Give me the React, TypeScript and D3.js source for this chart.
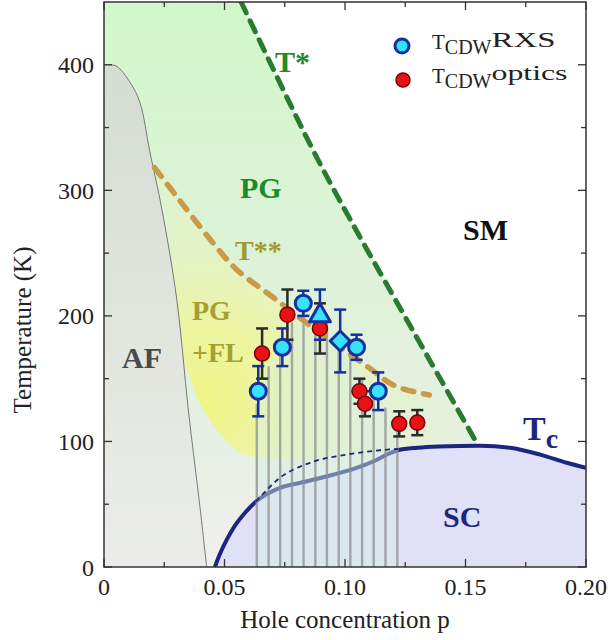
import React from 'react';
import * as d3 from 'd3';

// ---------- data ----------
const rxsP = [0.064, 0.074, 0.0827, 0.1048, 0.1138];
const rxsT = [140, 175, 210, 175, 140];
const rxsErr = [20, 15, 10, 10, 15];
const triP = [0.0896];
const triT = [201];
const triErr = [20];
const diaP = [0.098];
const diaT = [180];
const diaErr = [25];
const optP = [0.0656, 0.0761, 0.0896, 0.106, 0.1083, 0.1225, 0.130];
const optT = [170, 201, 190, 140, 130, 114, 115];
const optErr = [20, 20, 20, 10, 10, 10, 10];

// sample doping lines and their heights
const sampleP = [0.0634, 0.0683, 0.0731, 0.078, 0.0828, 0.0877, 0.0925, 0.0974, 0.1022, 0.1071, 0.1119, 0.1168, 0.1217];
const sampleTop = [130, 160, 172, 195, 205, 205, 195, 180, 168, 150, 138, 127, 110];

// T* line
const tStarP = [0.0569, 0.0862, 0.1021, 0.12, 0.1318, 0.1552];
const tStarT = [450, 334, 277, 216, 176, 97];
// T** line
const tSSP = [0.021, 0.031, 0.044, 0.055, 0.070, 0.09, 0.109, 0.12, 0.13, 0.135];
const tSST = [318, 293, 261, 237, 215, 186, 160, 145, 139, 137];
// Neel line (AF)
const tnP = [0, 0.005, 0.0108, 0.0149, 0.019, 0.024, 0.0302, 0.035, 0.0398, 0.0426];
const tnT = [400, 399, 386, 370, 331, 285, 213, 125, 48, 0];
// Tc (actual, with plateau)
const tcP = [0.046, 0.048, 0.051, 0.054, 0.058, 0.063, 0.073, 0.0813, 0.095, 0.1048, 0.1117, 0.1173, 0.122, 0.13, 0.139, 0.156, 0.1685, 0.181, 0.192, 0.20];
const tcT = [0, 10, 22, 32, 42, 52, 63, 67, 73.5, 79, 84, 89.5, 93, 95, 96, 96.6, 95, 89.5, 83, 79];
// ideal dome (dashed)
const tcIdP = [0.063, 0.073, 0.0855, 0.1007, 0.1145, 0.122];
const tcIdT = [52, 71, 83, 89.5, 93, 94];
// lower boundary of PG+FL region
const flLowP = [0.155, 0.13, 0.11, 0.09, 0.07, 0.058, 0.049, 0.040, 0.034, 0.030, 0.026, 0.021];
const flLowT = [97, 93, 89, 86, 86, 90, 104, 130, 160, 190, 250, 318];

const xTicks = [0, 0.05, 0.1, 0.15, 0.2];
const xTickLabels = ['0', '0.05', '0.10', '0.15', '0.20'];
const xMinor = [0.025, 0.075, 0.125, 0.175];
const yTicks = [0, 100, 200, 300, 400];
const yMinor = [50, 150, 250, 350];

const FONT = '"Liberation Serif", "Times New Roman", serif';

export default function App() {
  const x = d3.scaleLinear().domain([0, 0.2]).range([104, 586]);
  const y = d3.scaleLinear().domain([0, 450]).range([567, 2]);
  const X0 = x(0), X1 = x(0.2), Y0 = y(0), Y1 = y(450);

  const curve = (ps: number[], ts: number[], c: any = d3.curveCatmullRom) =>
    d3.line<number>().x(i => x(ps[i])).y(i => y(ts[i])).curve(c)(ps.map((_, i) => i)) as string;
  const cont = (d: string) => d.replace(/^M/, 'L');

  const pgPath = `M${X0},${Y0} L${X0},${Y1} ` + cont(curve(tStarP, tStarT)) + ` L${x(0.1552)},${Y0} Z`;
  const tStarSplitP = [0.147, 0.1552];
  const tStarSplitT = [125, 97];
  const flPath = curve(tSSP, tSST) + ' ' + cont(curve(tStarSplitP, tStarSplitT, d3.curveLinear)) + ' ' + cont(curve(flLowP, flLowT)) + ' Z';
  const afPath = `M${X0},${Y0} ` + cont(curve(tnP, tnT)) + ' Z';
  const tcPath = curve(tcP, tcT, d3.curveMonotoneX);
  const scPath = tcPath + ` L${X1},${Y0} L${x(0.046)},${Y0} Z`;
  const last = sampleP.length - 1;
  const overlayPath = `M${x(sampleP[0]) - 1},${Y0} ` + sampleP.map((p, i) => `L${x(p) - (i === 0 ? 1 : 0)},${y(sampleTop[i])}`).join(' ') + ` L${x(sampleP[last]) + 1},${y(sampleTop[last])} L${x(sampleP[last]) + 1},${Y0} Z`;

  const tri = d3.symbol().type(d3.symbolTriangle).size(190)() as string;
  const dia = d3.symbol().type(d3.symbolSquare).size(200)() as string;

  const errBar = (p: number, t: number, e: number, color: string, k: string) => (
    <g key={k} stroke={color} strokeWidth={2.5}>
      <line x1={x(p)} x2={x(p)} y1={y(t - e)} y2={y(t + e)} />
      <line x1={x(p) - 6} x2={x(p) + 6} y1={y(t + e)} y2={y(t + e)} />
      <line x1={x(p) - 6} x2={x(p) + 6} y1={y(t - e)} y2={y(t - e)} />
    </g>
  );

  const navy = '#1c2680';
  const cyan = '#36e2ff';
  const blueEdge = '#1530a0';
  const red = '#e81212';
  const redEdge = '#7a0000';

  return (
    <svg width={611} height={640} style={{ position: 'absolute', left: 0, top: 0, background: '#fff' }} fontFamily={FONT}>
      <defs>
        <clipPath id="plot"><rect x={X0} y={Y1} width={X1 - X0} height={Y0 - Y1} /></clipPath>
        <linearGradient id="pgGrad" gradientUnits="userSpaceOnUse" x1={0} y1={Y1} x2={0} y2={Y0}>
          <stop offset="0" stopColor="#d2f7cb" />
          <stop offset="0.5" stopColor="#def2d8" />
          <stop offset="0.8" stopColor="#e8efe4" />
          <stop offset="1" stopColor="#f0f0ee" />
        </linearGradient>
        <radialGradient id="flGrad" gradientUnits="userSpaceOnUse" cx={205} cy={400} r={260}>
          <stop offset="0" stopColor="#f0f580" stopOpacity={0.95} />
          <stop offset="0.3" stopColor="#eef59a" stopOpacity={0.85} />
          <stop offset="0.6" stopColor="#e8f3bc" stopOpacity={0.55} />
          <stop offset="1" stopColor="#e0f3d0" stopOpacity={0.2} />
        </radialGradient>
        <linearGradient id="afGrad" gradientUnits="userSpaceOnUse" x1={0} y1={y(400)} x2={0} y2={Y0}>
          <stop offset="0" stopColor="#d5dcd2" />
          <stop offset="0.5" stopColor="#e0e5dd" />
          <stop offset="1" stopColor="#ebecea" />
        </linearGradient>
      </defs>

      <g clipPath="url(#plot)">
        <path d={pgPath} fill="url(#pgGrad)" />
        <path d={flPath} fill="url(#flGrad)" />
        <path d={afPath} fill="url(#afGrad)" />
        <path d={scPath} fill="#e0e0f6" />
        <path d={curve(tnP, tnT)} fill="none" stroke="#777" strokeWidth={1} />
        <path d={tcPath} fill="none" stroke={navy} strokeWidth={4} />
        <path d={overlayPath} fill="#d4efe6" opacity={0.45} />
        {sampleP.map((p, i) => (
          <line key={'s' + i} x1={x(p)} x2={x(p)} y1={Y0} y2={y(sampleTop[i])} stroke="#8c8c8c" strokeWidth={2.4} opacity={0.72} />
        ))}
        <path d={curve(tcIdP, tcIdT, d3.curveMonotoneX)} fill="none" stroke={navy} strokeWidth={1.8} strokeDasharray="5 4" />
        <path d={curve(tSSP, tSST)} fill="none" stroke="#c99a48" strokeWidth={5.5} strokeDasharray="11 10" strokeLinecap="round" />
        <path d={curve(tStarP, tStarT)} fill="none" stroke="#2a7a30" strokeWidth={5} strokeDasharray="12 9" strokeLinecap="round" />

        {optP.map((p, i) => errBar(p, optT[i], optErr[i], '#2a2a2a', 'oe' + i))}
        {rxsP.map((p, i) => errBar(p, rxsT[i], rxsErr[i], blueEdge, 're' + i))}
        {triP.map((p, i) => errBar(p, triT[i], triErr[i], blueEdge, 'te' + i))}
        {diaP.map((p, i) => errBar(p, diaT[i], diaErr[i], blueEdge, 'de' + i))}
        {rxsP.map((p, i) => (
          <circle key={'r' + i} cx={x(p)} cy={y(rxsT[i])} r={8} fill={cyan} stroke={blueEdge} strokeWidth={3} />
        ))}
        {optP.map((p, i) => (
          <circle key={'o' + i} cx={x(p)} cy={y(optT[i])} r={7.5} fill={red} stroke={redEdge} strokeWidth={1.5} />
        ))}
        {triP.map((p, i) => (
          <path key={'t' + i} d={tri} transform={`translate(${x(p)},${y(triT[i]) + 1})`} fill={cyan} stroke={blueEdge} strokeWidth={3} strokeLinejoin="round" />
        ))}
        {diaP.map((p, i) => (
          <path key={'d' + i} d={dia} transform={`translate(${x(p)},${y(diaT[i])}) rotate(45)`} fill={cyan} stroke={blueEdge} strokeWidth={3} strokeLinejoin="round" />
        ))}
      </g>

      {/* region labels */}
      <g fontWeight="bold">
        <text x={275} y={72} fontSize={30} fill="#1f8a2a">T*</text>
        <text x={240} y={198} fontSize={30} fill="#1f8a2a">PG</text>
        <text x={463} y={240} fontSize={30} fill="#111">SM</text>
        <text x={235} y={260} fontSize={28} fill="#a09a30">T**</text>
        <text x={192} y={320} fontSize={28} fill="#a3a030">PG</text>
        <text x={192} y={362} fontSize={28} fill="#a3a030">+FL</text>
        <text x={122} y={368} fontSize={30} fill="#4a4a4a">AF</text>
        <text x={443} y={527} fontSize={30} fill={navy}>SC</text>
        <text x={523} y={440} fontSize={34} fill={navy}>T<tspan fontSize={28} dy={8}>c</tspan></text>
      </g>

      {/* legend */}
      <circle cx={402} cy={46} r={7} fill={cyan} stroke={blueEdge} strokeWidth={3} />
      <circle cx={403} cy={80} r={7} fill={red} stroke={redEdge} strokeWidth={1.5} />
      <text x={432} y={49} fontSize={21} fill="#222">T<tspan fontSize={20} dy={5}>CDW</tspan><tspan fontSize={21} dy={-7} textLength={64} lengthAdjust="spacingAndGlyphs">RXS</tspan></text>
      <text x={432} y={83} fontSize={21} fill="#222">T<tspan fontSize={20} dy={5}>CDW</tspan><tspan fontSize={22} dy={-8} textLength={76} lengthAdjust="spacingAndGlyphs">optics</tspan></text>

      {/* axes frame */}
      <rect x={X0} y={Y1} width={X1 - X0} height={Y0 - Y1} fill="none" stroke="#333" strokeWidth={1.5} />
      <g stroke="#333" strokeWidth={1.3}>
        {xTicks.map((t, i) => (
          <g key={'xt' + i}>
            <line x1={x(t)} x2={x(t)} y1={Y0} y2={Y0 - 8} />
            <line x1={x(t)} x2={x(t)} y1={Y1} y2={Y1 + 8} />
          </g>
        ))}
        {xMinor.map((t, i) => (
          <g key={'xm' + i}>
            <line x1={x(t)} x2={x(t)} y1={Y0} y2={Y0 - 5} />
            <line x1={x(t)} x2={x(t)} y1={Y1} y2={Y1 + 5} />
          </g>
        ))}
        {yTicks.map((t, i) => (
          <g key={'yt' + i}>
            <line x1={X0} x2={X0 + 8} y1={y(t)} y2={y(t)} />
            <line x1={X1} x2={X1 - 8} y1={y(t)} y2={y(t)} />
          </g>
        ))}
        {yMinor.map((t, i) => (
          <g key={'ym' + i}>
            <line x1={X0} x2={X0 + 5} y1={y(t)} y2={y(t)} />
            <line x1={X1} x2={X1 - 5} y1={y(t)} y2={y(t)} />
          </g>
        ))}
      </g>
      <g fontSize={24} fill="#222">
        {xTicks.map((t, i) => (
          <text key={'xl' + i} x={x(t)} y={595} textAnchor="middle">{xTickLabels[i]}</text>
        ))}
        {yTicks.map((t, i) => (
          <text key={'yl' + i} x={94} y={y(t) + 8.5} textAnchor="end">{t}</text>
        ))}
      </g>
      <text x={345} y={628} fontSize={25} textAnchor="middle" fill="#222">Hole concentration p</text>
      <text transform="translate(31,330) rotate(-90)" fontSize={25} textAnchor="middle" fill="#222">Temperature (K)</text>
    </svg>
  );
}
